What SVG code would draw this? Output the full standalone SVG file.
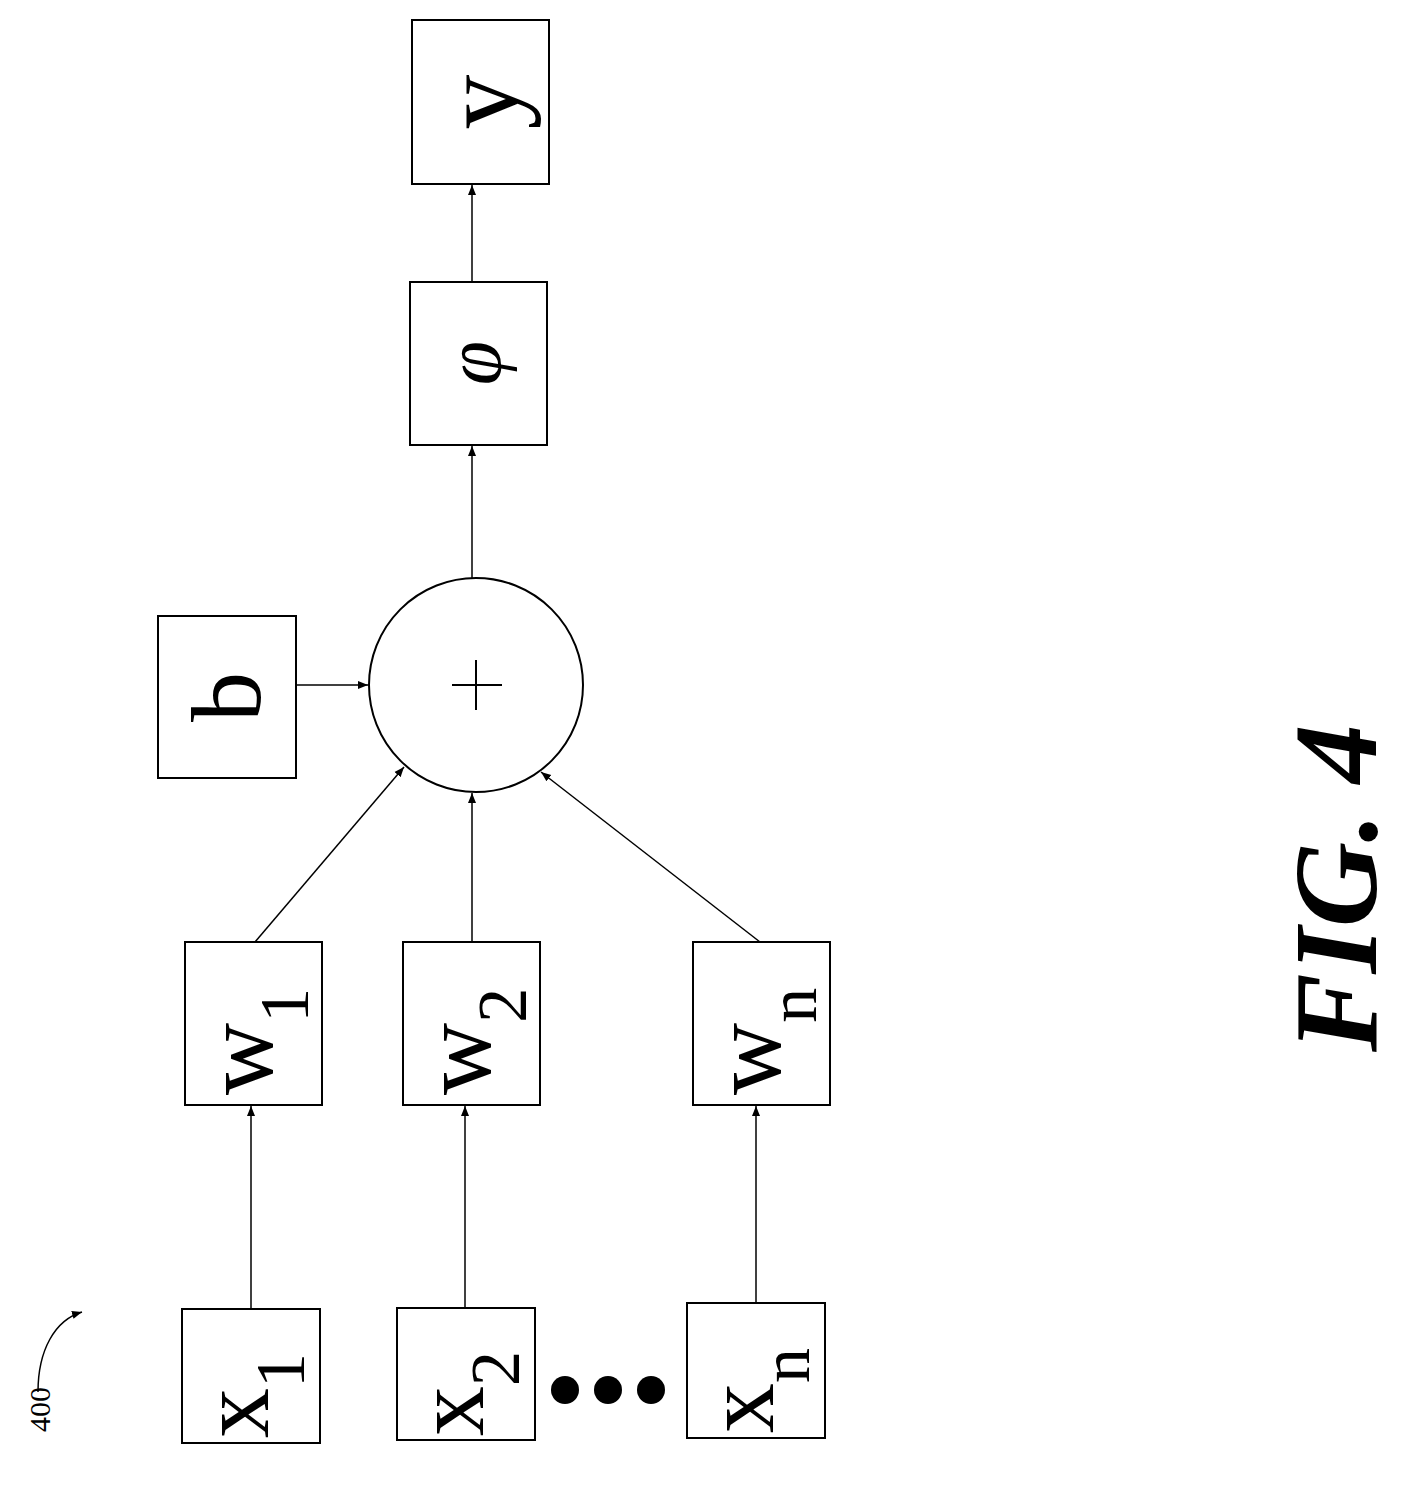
<svg xmlns="http://www.w3.org/2000/svg" width="1404" height="1495" viewBox="0 0 1404 1495">
<style>
.box{fill:#fff;stroke:#000;stroke-width:2}
.t{font-family:"Liberation Serif",serif;font-size:100px;fill:#000}
.s{font-size:70px}
.c{stroke:#000;stroke-width:1.5;fill:none}
</style>
<defs><marker id="a" viewBox="0 0 10 10" refX="10" refY="5" markerWidth="10" markerHeight="10" markerUnits="userSpaceOnUse" orient="auto"><path d="M0,1 L10,5 L0,9 z" fill="#000"/></marker></defs>
<rect width="1404" height="1495" fill="#fff"/>
<g id="connectors" class="c">
<line x1="251" y1="1309" x2="251" y2="1106" marker-end="url(#a)"/>
<line x1="465" y1="1308" x2="465" y2="1106" marker-end="url(#a)"/>
<line x1="756" y1="1303" x2="756" y2="1106" marker-end="url(#a)"/>
<line x1="255" y1="942" x2="404" y2="767" marker-end="url(#a)"/>
<line x1="472" y1="942" x2="472" y2="793" marker-end="url(#a)"/>
<line x1="760" y1="942" x2="541" y2="772" marker-end="url(#a)"/>
<line x1="296" y1="685" x2="368" y2="685" marker-end="url(#a)"/>
<line x1="472" y1="578" x2="472" y2="446" marker-end="url(#a)"/>
<line x1="472" y1="282" x2="472" y2="185" marker-end="url(#a)"/>
<path d="M38,1392 C38,1350 55,1320 82,1312" marker-end="url(#a)"/>
</g>
<g id="y"><rect class="box" x="412" y="20" width="137" height="164"/><text class="t" style="font-size:110px" transform="translate(518,102) rotate(-90)" text-anchor="middle">y</text></g>
<g id="phi"><rect class="box" x="410" y="282" width="137" height="163"/><text class="t" style="font-style:italic;font-size:80px" transform="translate(500,363) rotate(-90)" text-anchor="middle">φ</text></g>
<g id="sum"><circle cx="476" cy="685" r="107" fill="#fff" stroke="#000" stroke-width="2"/><path d="M476,660 V710 M452,685 H502" stroke="#000" stroke-width="2"/></g>
<g id="b"><rect class="box" x="158" y="616" width="138" height="162"/><text class="t" transform="translate(260,697) rotate(-90)" text-anchor="middle">b</text></g>
<g id="w1"><rect class="box" x="185" y="942" width="137" height="163"/><text class="t" transform="translate(272,1095) rotate(-90)">w<tspan class="s" dy="36">1</tspan></text></g>
<g id="w2"><rect class="box" x="403" y="942" width="137" height="163"/><text class="t" transform="translate(490,1095) rotate(-90)">w<tspan class="s" dy="36">2</tspan></text></g>
<g id="wn"><rect class="box" x="693" y="942" width="137" height="163"/><text class="t" transform="translate(780,1095) rotate(-90)">w<tspan class="s" dy="36">n</tspan></text></g>
<g id="x1"><rect class="box" x="182" y="1309" width="138" height="134"/><text class="t" transform="translate(268,1438) rotate(-90)">x<tspan class="s" dy="36">1</tspan></text></g>
<g id="x2"><rect class="box" x="397" y="1308" width="138" height="132"/><text class="t" transform="translate(483,1436) rotate(-90)">x<tspan class="s" dy="36">2</tspan></text></g>
<g id="xn"><rect class="box" x="687" y="1303" width="138" height="135"/><text class="t" transform="translate(773,1433) rotate(-90)">x<tspan class="s" dy="36">n</tspan></text></g>
<g id="dots" fill="#000"><circle cx="565" cy="1390" r="14"/><circle cx="608" cy="1390" r="14"/><circle cx="651" cy="1390" r="14"/></g>
<text class="t" style="font-size:30px" transform="translate(50,1432) rotate(-90)">400</text>
<text class="t" style="font-size:118px;font-weight:bold;font-style:italic" transform="translate(1376,1052) rotate(-90)">FIG. 4</text>
</svg>
